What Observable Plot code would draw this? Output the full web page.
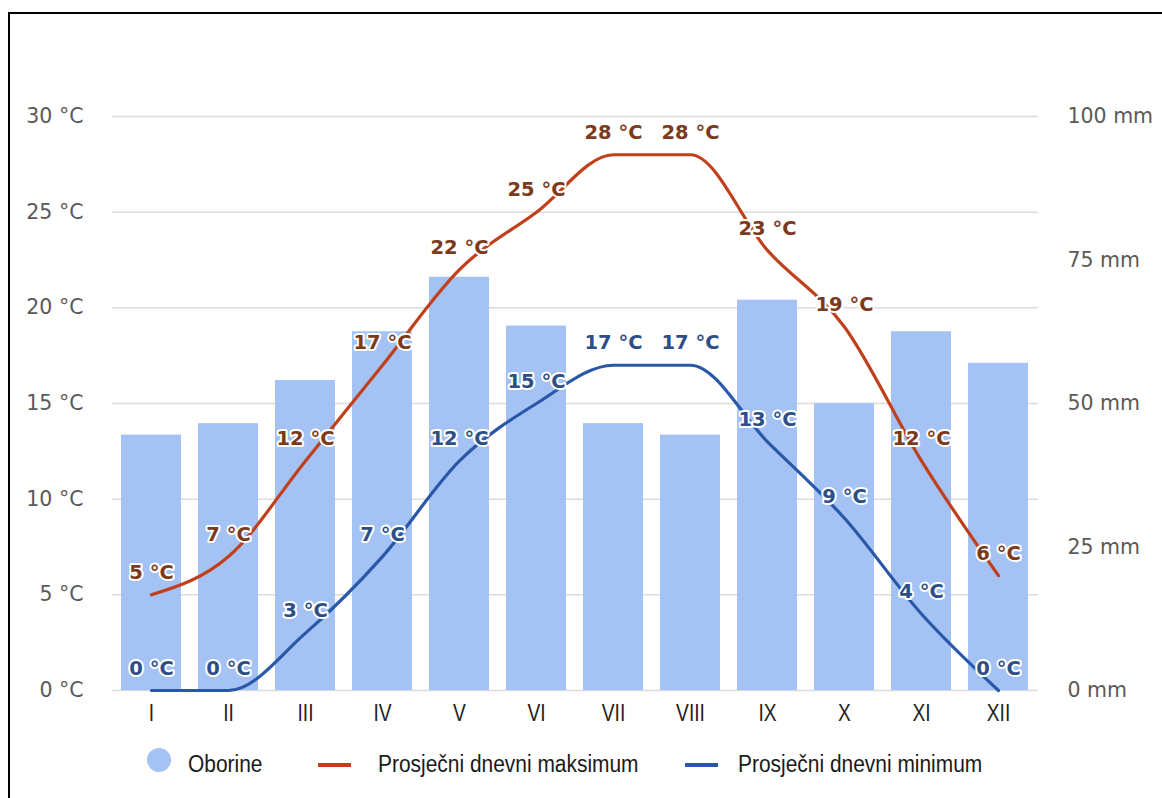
<!DOCTYPE html>
<html>
<head>
<meta charset="utf-8">
<script src="https://cdn.jsdelivr.net/npm/d3@7"></script>
<script src="https://cdn.jsdelivr.net/npm/@observablehq/plot@0.6"></script>
<style>
  html, body { margin: 0; padding: 0; background: #fff; width: 1162px; height: 798px; overflow: hidden; }
  #frame { position: absolute; left: 8px; top: 12px; width: 1200px; height: 850px; border-top: 2px solid #000; border-left: 2px solid #000; box-sizing: border-box; }
  #chart { position: absolute; left: 0; top: 0; }
  #legend { position: absolute; left: 0; top: 730px; width: 1162px; height: 60px; font-family: "Liberation Sans", Arial, sans-serif; font-size: 23px; color: #1a1a1a; }
  .sw { position: absolute; }
  .tx { position: absolute; top: 21px; line-height: 27px; white-space: nowrap; transform: scaleX(0.91); transform-origin: 0 50%; }
</style>
</head>
<body>
<div id="frame"></div>
<div id="chart"></div>
<div id="legend"></div>
<script>
const months = ["I","II","III","IV","V","VI","VII","VIII","IX","X","XI","XII"];
const precipMm = [44.5, 46.5, 54, 62.5, 72, 63.5, 46.5, 44.5, 68, 50, 62.5, 57];
const tempMax = [5, 7, 12, 17, 22, 25, 28, 28, 23, 19, 12, 6];
const tempMin = [0, 0, 3, 7, 12, 15, 17, 17, 13, 9, 4, 0];
const tempTicks = [0, 5, 10, 15, 20, 25, 30];
const mmTicks = [0, 25, 50, 75, 100];
const seriesNames = ["Oborine", "Prosječni dnevni maksimum", "Prosječni dnevni minimum"];

const colBar = "#a4c2f4";
const colMax = "#c1401c";
const colMin = "#2a58a8";
const colMaxText = "#7c3a1d";
const colMinText = "#2d4f86";

const mmScale = 30 / 100; // 100 mm on the right axis aligns with 30 °C on the left

const rows = months.map((m, i) => ({month: m, mm: precipMm[i], max: tempMax[i], min: tempMin[i]}));

const chart = Plot.plot({
  width: 1162,
  height: 730,
  marginLeft: 112,
  marginRight: 124,
  marginTop: 116,
  marginBottom: 40,
  style: {fontFamily: "DejaVu Sans", background: "transparent", overflow: "visible"},
  x: {domain: months, paddingInner: 0.22, paddingOuter: 0.11},
  y: {domain: [0, 30]},
  marks: [
    Plot.gridY(tempTicks, {stroke: "#dcdcdc", strokeOpacity: 1, strokeWidth: 1.5}),
    Plot.barY(rows, {x: "month", y: d => d.mm * mmScale, fill: colBar}),
    Plot.axisY({anchor: "left", ticks: tempTicks, tickFormat: d => `${d} °C`, tickSize: 0, tickPadding: 29, fontSize: 20.5, color: "#5a5a5a", label: null}),
    Plot.axisY({anchor: "right", ticks: mmTicks.map(m => m * mmScale), tickFormat: d => `${Math.round(d / mmScale)} mm`, tickSize: 0, tickPadding: 29, fontSize: 20.5, color: "#5a5a5a", label: null}),
    Plot.axisX({tickSize: 0, tickPadding: 13, fontSize: 24, fontFamily: "Liberation Sans, Arial, sans-serif", color: "#222", label: null}),
    Plot.line(rows, {x: "month", y: "max", stroke: colMax, strokeWidth: 3.2, curve: "monotone-x"}),
    Plot.line(rows, {x: "month", y: "min", stroke: colMin, strokeWidth: 3.2, curve: "monotone-x"}),
    Plot.text(rows, {x: "month", y: "max", text: d => `${d.max} °C`, dy: -22, fill: colMaxText, stroke: "white", strokeWidth: 4, fontWeight: "bold", fontSize: 19.5}),
    Plot.text(rows, {x: "month", y: "min", text: d => `${d.min} °C`, dy: -22, fill: colMinText, stroke: "white", strokeWidth: 4, fontWeight: "bold", fontSize: 19.5})
  ]
});
document.getElementById("chart").appendChild(chart);

// narrow the month labels horizontally, as in the reference
chart.querySelectorAll('g[aria-label="x-axis tick label"] text').forEach(t => {
  const bb = t.getBBox();
  const cx = bb.x + bb.width / 2;
  const prev = t.getAttribute("transform") || "";
  t.setAttribute("transform", `${prev} translate(${cx},0) scale(0.8,1) translate(${-cx},0)`);
});

const legend = document.getElementById("legend");
const items = [
  {name: seriesNames[0], kind: "dot", color: colBar, swLeft: 147, txLeft: 188},
  {name: seriesNames[1], kind: "ln", color: colMax, swLeft: 318, txLeft: 378},
  {name: seriesNames[2], kind: "ln", color: colMin, swLeft: 685, txLeft: 738}
];
for (const it of items) {
  const sw = document.createElement("div");
  sw.className = "sw";
  sw.style.left = it.swLeft + "px";
  sw.style.background = it.color;
  if (it.kind === "dot") {
    Object.assign(sw.style, {top: "18px", width: "24px", height: "24px", borderRadius: "50%"});
  } else {
    Object.assign(sw.style, {top: "33px", width: "33px", height: "4px"});
  }
  const tx = document.createElement("div");
  tx.className = "tx";
  tx.style.left = it.txLeft + "px";
  tx.textContent = it.name;
  legend.appendChild(sw);
  legend.appendChild(tx);
}
</script>
</body>
</html>
